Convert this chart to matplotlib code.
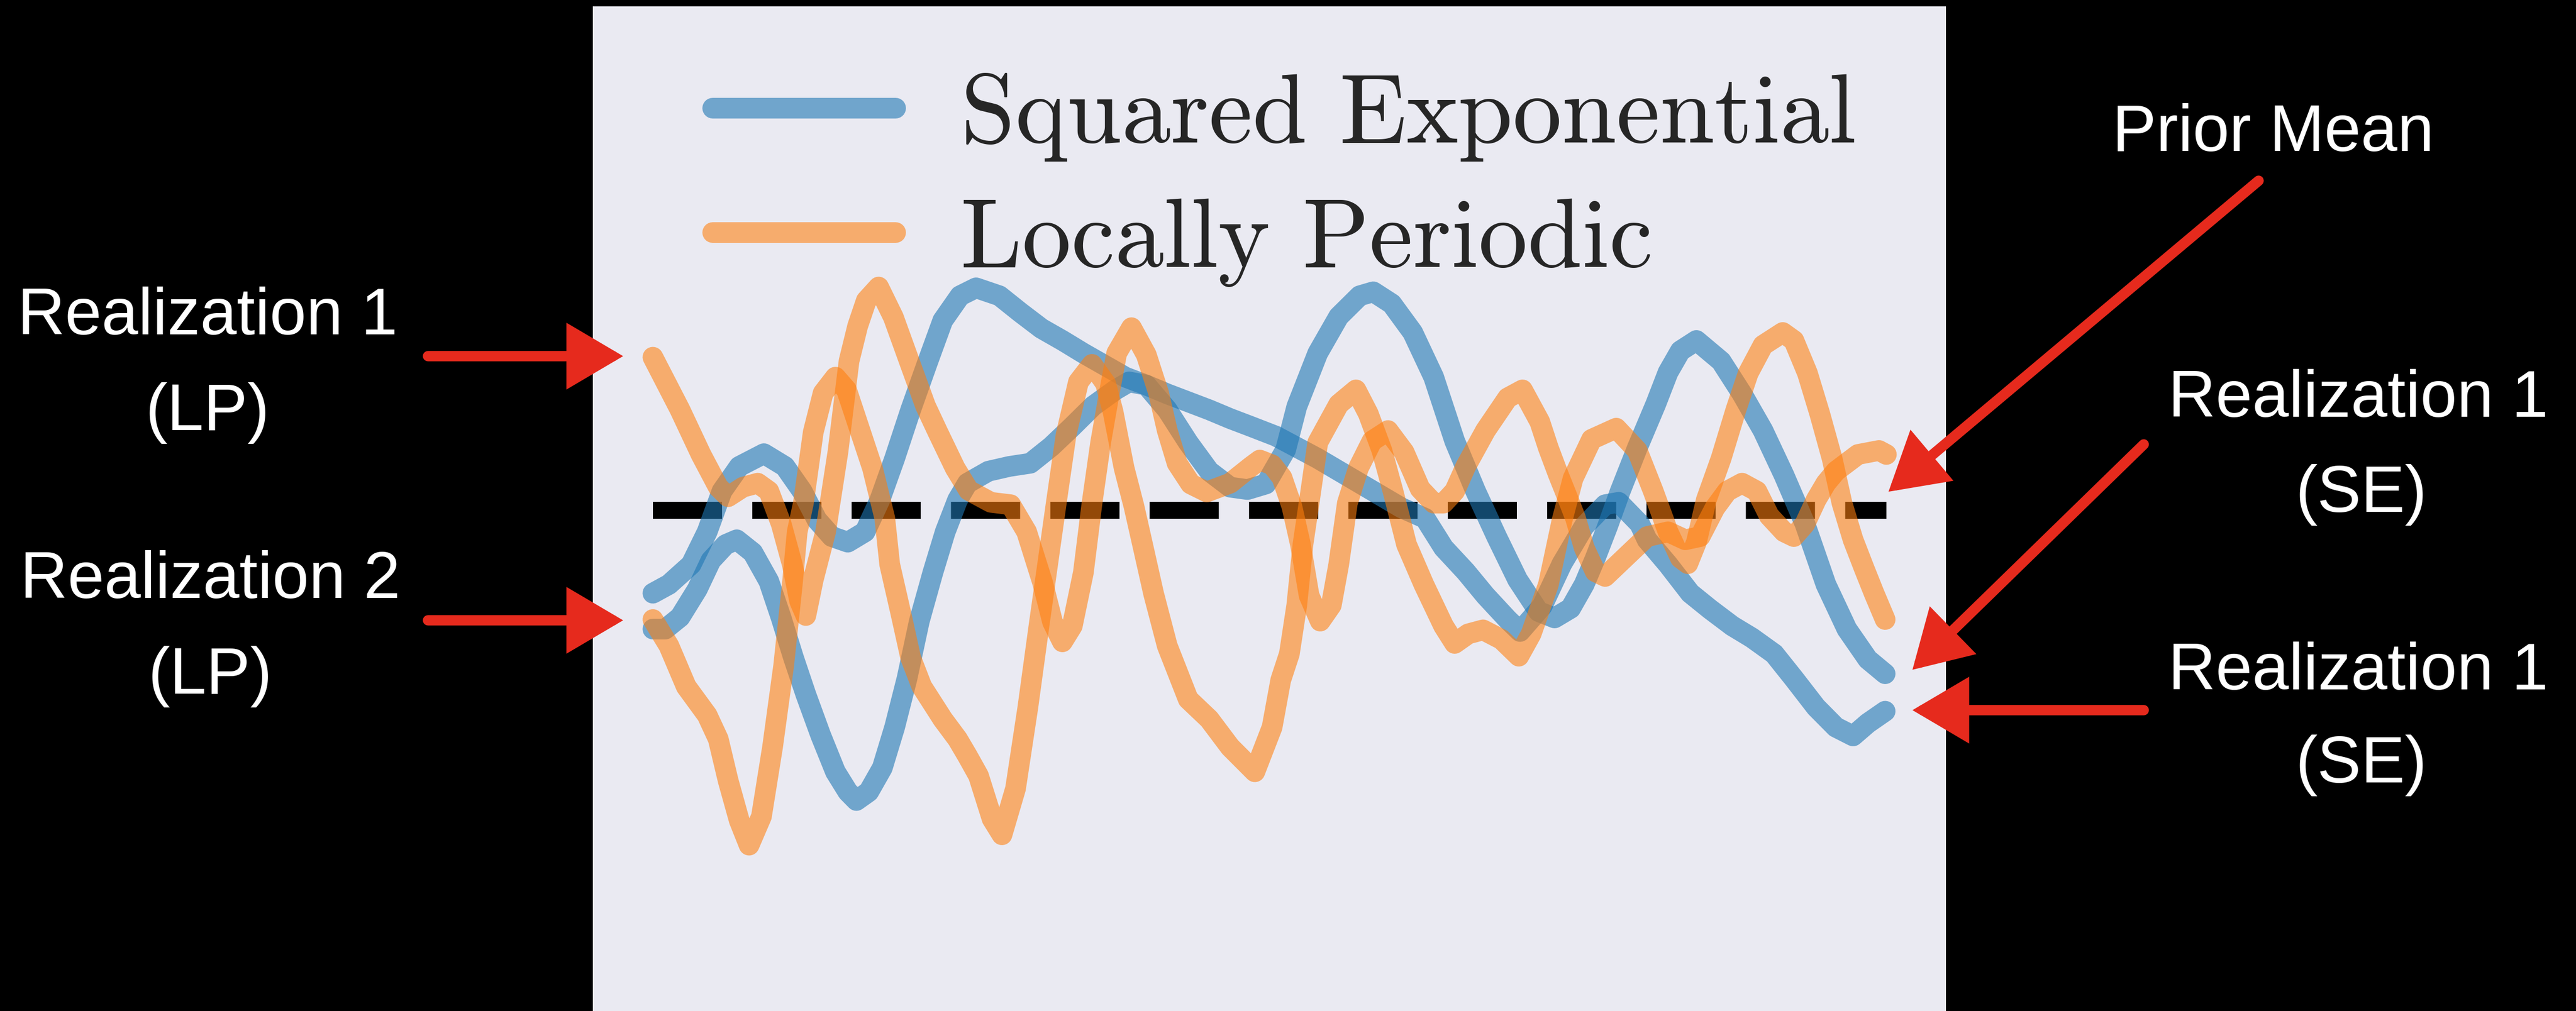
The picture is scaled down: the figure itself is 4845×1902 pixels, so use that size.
import matplotlib.pyplot as plt
from matplotlib.patches import FancyArrowPatch

W, H = 4845, 1902

x_se1 = [0, 0.13, 0.31, 0.44, 0.56, 0.70, 0.90, 1.07, 1.21, 1.33, 1.45, 1.58, 1.72, 1.84, 1.96,
         2.09, 2.23, 2.35, 2.49, 2.62, 2.81, 2.98, 3.15, 3.32, 3.49, 3.66, 3.83, 4.00, 4.17, 4.34,
         4.51, 4.68, 4.85, 5.05, 5.39, 5.73, 6.07, 6.26, 6.41, 6.59, 6.75, 6.93, 7.03, 7.21, 7.37,
         7.55, 7.72, 7.83, 8.00, 8.06, 8.23, 8.41, 8.57, 8.75, 8.91, 9.09, 9.25, 9.43, 9.59, 9.73,
         9.85, 9.99]
y_se1 = [-1.04, -0.93, -0.68, -0.27, 0.24, 0.55, 0.71, 0.55, 0.24, -0.12, -0.33, -0.40, -0.27, 0.13, 0.65,
         1.26, 1.87, 2.38, 2.69, 2.79, 2.69, 2.48, 2.28, 2.13, 1.97, 1.82, 1.67, 1.57, 1.46, 1.36,
         1.26, 1.15, 1.05, 0.93, 0.65, 0.34, 0.03, -0.10, -0.47, -0.77, -1.07, -1.37, -1.52, -1.20, -0.67,
         -0.20, 0.07, 0.10, -0.17, -0.37, -0.68, -1.04, -1.24, -1.45, -1.60, -1.80, -2.11, -2.47, -2.72, -2.83,
         -2.67, -2.52]

x_se2 = [0, 0.10, 0.22, 0.36, 0.47, 0.59, 0.68, 0.81, 0.94, 1.04, 1.14, 1.24, 1.36, 1.48, 1.58,
         1.65, 1.75, 1.86, 1.96, 2.06, 2.16, 2.27, 2.37, 2.47, 2.55, 2.72, 2.89, 3.06, 3.23, 3.40,
         3.57, 3.75, 3.86, 4.00, 4.17, 4.34, 4.51, 4.68, 4.82, 4.97, 5.13, 5.22, 5.39, 5.56, 5.73,
         5.84, 5.99, 6.16, 6.33, 6.50, 6.67, 6.84, 7.01, 7.18, 7.31, 7.44, 7.55, 7.64, 7.74, 7.84,
         7.98, 8.13, 8.23, 8.33, 8.46, 8.66, 8.83, 9.00, 9.17, 9.34, 9.51, 9.68, 9.85, 9.99]
y_se2 = [-1.49, -1.49, -1.34, -0.99, -0.63, -0.43, -0.37, -0.53, -0.89, -1.35, -1.85, -2.31, -2.82, -3.28, -3.53,
         -3.64, -3.53, -3.23, -2.72, -2.11, -1.39, -0.78, -0.27, 0.13, 0.34, 0.49, 0.55, 0.59, 0.80, 1.05,
         1.31, 1.51, 1.61, 1.57, 1.26, 0.85, 0.49, 0.29, 0.26, 0.33, 0.76, 1.30, 1.97, 2.43, 2.69,
         2.74, 2.59, 2.23, 1.67, 0.87, 0.24, -0.33, -0.87, -1.27, -1.35, -1.23, -0.93, -0.60, -0.20, 0.23,
         0.78, 1.33, 1.73, 2.00, 2.13, 1.87, 1.46, 1.00, 0.44, -0.17, -0.93, -1.49, -1.87, -2.05]

x_lp1 = [0, 0.22, 0.39, 0.53, 0.61, 0.73, 0.85, 0.94, 1.04, 1.13, 1.19, 1.24, 1.30, 1.40, 1.50,
         1.59, 1.66, 1.73, 1.83, 1.95, 2.09, 2.21, 2.31, 2.45, 2.56, 2.74, 2.90, 3.03, 3.16, 3.24,
         3.32, 3.40, 3.49, 3.56, 3.63, 3.70, 3.76, 3.88, 4.00, 4.10, 4.17, 4.25, 4.36, 4.49, 4.68,
         4.85, 4.92, 5.02, 5.10, 5.18, 5.25, 5.32, 5.41, 5.50, 5.56, 5.63, 5.72, 5.83, 5.96, 6.09,
         6.22, 6.33, 6.41, 6.50, 6.59, 6.75, 6.93, 7.05, 7.19, 7.26, 7.34, 7.41, 7.48, 7.55, 7.64,
         7.72, 7.89, 8.06, 8.23, 8.37, 8.49, 8.61, 8.71, 8.83, 8.95, 9.05, 9.17, 9.25, 9.34, 9.43,
         9.51, 9.59, 9.77, 9.94, 10.0]
y_lp1 = [1.92, 1.26, 0.70, 0.29, 0.17, 0.29, 0.34, 0.24, -0.17, -0.68, -1.14, -1.32, -0.87, -0.27, 0.73,
         1.87, 2.31, 2.63, 2.80, 2.42, 1.82, 1.31, 0.98, 0.53, 0.25, 0.10, 0.07, -0.27, -0.91, -1.40,
         -1.65, -1.45, -0.78, 0.09, 0.85, 1.47, 1.97, 2.29, 1.95, 1.47, 1.00, 0.59, 0.33, 0.23, 0.34,
         0.55, 0.63, 0.57, 0.41, 0.05, -0.43, -1.07, -1.39, -1.19, -0.68, 0.09, 0.53, 0.87, 1.00, 0.73,
         0.27, 0.09, 0.09, 0.24, 0.55, 1.00, 1.41, 1.51, 1.11, 0.78, 0.45, 0.18, -0.10, -0.47, -0.77,
         -0.83, -0.58, -0.33, -0.27, -0.37, -0.33, 0.03, 0.24, 0.34, 0.24, -0.07, -0.27, -0.33, -0.17, 0.13,
         0.34, 0.49, 0.70, 0.75, 0.70]

x_lp2 = [0, 0.13, 0.27, 0.44, 0.53, 0.61, 0.70, 0.78, 0.88, 0.97, 1.06, 1.13, 1.17, 1.22, 1.26,
         1.30, 1.38, 1.48, 1.57, 1.66, 1.78, 1.88, 1.92, 2.01, 2.09, 2.18, 2.35, 2.47, 2.55, 2.64,
         2.75, 2.83, 2.94, 3.04, 3.13, 3.20, 3.27, 3.35, 3.45, 3.56, 3.67, 3.73, 3.82, 3.90, 3.97,
         4.06, 4.17, 4.34, 4.51, 4.68, 4.88, 5.02, 5.09, 5.16, 5.22, 5.27, 5.33, 5.39, 5.56, 5.70,
         5.80, 5.91, 6.00, 6.11, 6.25, 6.41, 6.50, 6.61, 6.73, 6.88, 7.02, 7.12, 7.26, 7.37, 7.46,
         7.61, 7.81, 7.98, 8.11, 8.23, 8.33, 8.39, 8.46, 8.54, 8.66, 8.78, 8.88, 9.00, 9.16, 9.25,
         9.36, 9.46, 9.56, 9.64, 9.73, 9.82, 9.90, 9.99]
y_lp2 = [-1.37, -1.70, -2.21, -2.57, -2.87, -3.39, -3.89, -4.20, -3.84, -2.97, -1.95, -0.93, -0.27, 0.09, 0.53,
         0.98, 1.47, 1.67, 1.51, 1.09, 0.53, -0.10, -0.68, -1.29, -1.85, -2.21, -2.62, -2.87, -3.08, -3.33,
         -3.87, -4.07, -3.49, -2.47, -1.45, -0.68, 0.09, 0.95, 1.61, 1.83, 1.59, 1.24, 0.53, 0.05, -0.43,
         -1.05, -1.70, -2.37, -2.62, -2.97, -3.28, -2.72, -2.13, -1.80, -1.19, -0.43, 0.20, 0.85, 1.33, 1.51,
         1.21, 0.75, 0.24, -0.43, -0.93, -1.45, -1.67, -1.55, -1.50, -1.62, -1.83, -1.55, -0.93, -0.13, 0.40,
         0.89, 1.03, 0.75, 0.24, -0.27, -0.60, -0.67, -0.40, 0.13, 0.65, 1.26, 1.72, 2.07, 2.23, 2.13,
         1.72, 1.21, 0.65, 0.09, -0.37, -0.73, -1.04, -1.37]

mean_x = [0, 10]
mean_y = [0, 0]

labels = ['Squared Exponential', 'Locally Periodic']
notes_left = [('Realization 1', '(LP)'), ('Realization 2', '(LP)')]
notes_right = ['Prior Mean', ('Realization 1', '(SE)'), ('Realization 1', '(SE)')]

fig = plt.figure(figsize=(W / 100, H / 100), dpi=100, facecolor='black')
ax = fig.add_axes([1115 / W, 0, (3660 - 1115) / W, (H - 12) / H])
ax.set_facecolor('#EAEAF2')

lw = 28
ax.plot(mean_x, mean_y, color='black', lw=23, linestyle=(0, (4.07, 1.78)))
ax.plot(x_se1, y_se1, color='#1f77b4', alpha=0.6, lw=lw, solid_capstyle='round',
        solid_joinstyle='round', label=labels[0])
ax.plot(x_se2, y_se2, color='#1f77b4', alpha=0.6, lw=lw, solid_capstyle='round',
        solid_joinstyle='round')
ax.plot(x_lp1, y_lp1, color='#ff7f0e', alpha=0.58, lw=lw, solid_capstyle='round',
        solid_joinstyle='round', label=labels[1])
ax.plot(x_lp2, y_lp2, color='#ff7f0e', alpha=0.58, lw=lw, solid_capstyle='round',
        solid_joinstyle='round')

ax.set_xlim(-0.487, 10.483)
ax.set_ylim(-6.28, 6.32)
ax.set_xticks([])
ax.set_yticks([])
for s in ax.spines.values():
    s.set_visible(False)

ax.legend(loc='upper left', bbox_to_anchor=(1340 / W, 1 - 137 / H), bbox_transform=fig.transFigure,
          frameon=False, borderpad=0, borderaxespad=0, handlelength=1.86, handletextpad=0.67,
          labelspacing=0.37, prop={'family': 'cmr10', 'size': 133}, labelcolor='#262626')

# white notes on the black margins
tk = dict(color='white', fontsize=89, family='Liberation Sans', ha='center', va='baseline')
fig.text(390 / W, 1 - 629 / H, notes_left[0][0], **tk)
fig.text(390 / W, 1 - 809 / H, notes_left[0][1], **tk)
fig.text(395 / W, 1 - 1125 / H, notes_left[1][0], **tk)
fig.text(395 / W, 1 - 1305 / H, notes_left[1][1], **tk)
fig.text(4275 / W, 1 - 284 / H, notes_right[0], **tk)
fig.text(4435 / W, 1 - 784 / H, notes_right[1][0], **tk)
fig.text(4441 / W, 1 - 963 / H, notes_right[1][1], **tk)
fig.text(4435 / W, 1 - 1297 / H, notes_right[2][0], **tk)
fig.text(4441 / W, 1 - 1472 / H, notes_right[2][1], **tk)

# red arrows
red = '#E62A1D'
arrows = [((805, 670), (1172, 670)), ((805, 1167), (1172, 1167)),
          ((4248, 340), (3552, 925)), ((4032, 836), (3597, 1260)),
          ((4032, 1336), (3597, 1336))]
for (x0, y0), (x1, y1) in arrows:
    a = FancyArrowPatch((x0 / W, 1 - y0 / H), (x1 / W, 1 - y1 / H), transform=fig.transFigure,
                        arrowstyle='-|>,head_length=56,head_width=33', mutation_scale=1,
                        lw=14, color=red, shrinkA=0, shrinkB=0, joinstyle='miter')
    fig.add_artist(a)

fig.savefig('out.png', dpi=100, facecolor='black')
